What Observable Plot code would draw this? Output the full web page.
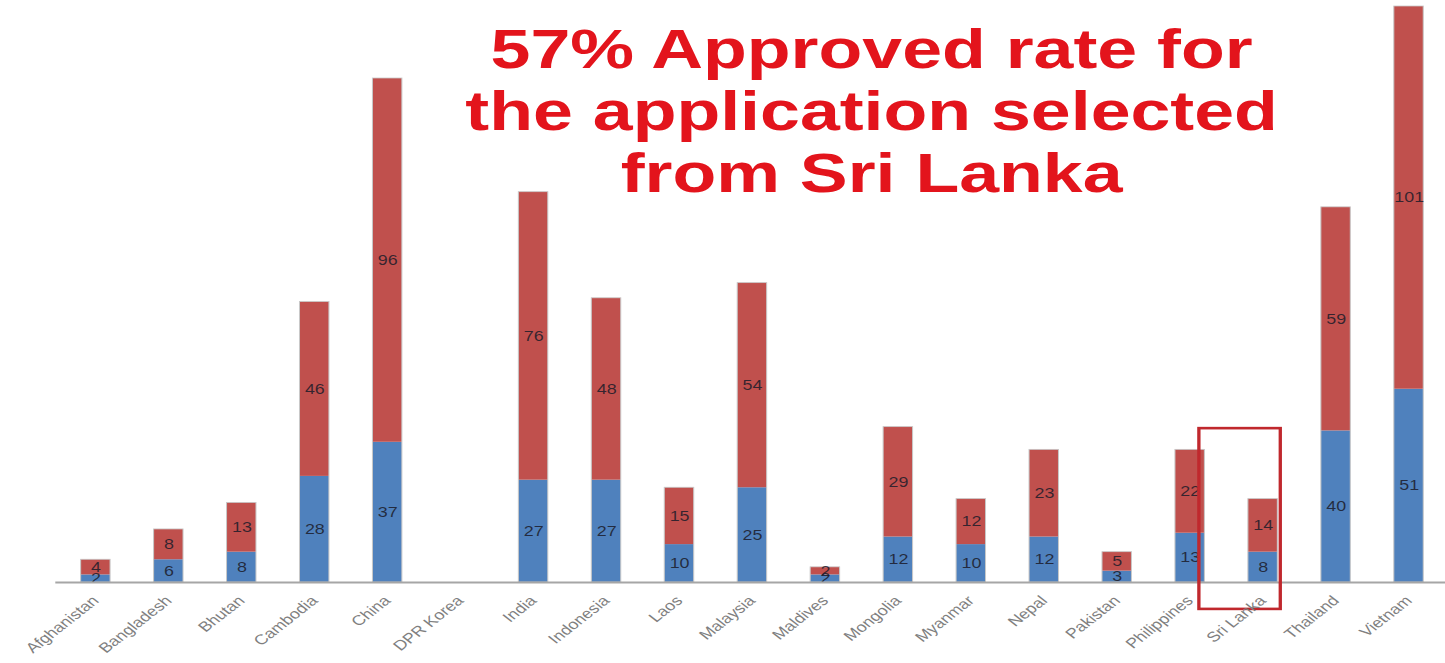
<!DOCTYPE html>
<html>
<head>
<meta charset="utf-8">
<script src="https://cdn.jsdelivr.net/npm/d3@7"></script>
<script src="https://cdn.jsdelivr.net/npm/@observablehq/plot@0.6"></script>
<style>
  html, body { margin: 0; padding: 0; background: #fff; overflow: hidden; }
  #wrap { position: relative; width: 1129px; height: 663px; transform: scale(1.2799, 1); transform-origin: 0 0; }
  #title { position: absolute; left: 181px; top: 17.6px; width: 1000px; text-align: center;
           font-family: "Liberation Sans", Arial, sans-serif; font-weight: bold; font-size: 56px;
           line-height: 62px; color: #e3141c; pointer-events: none; }
</style>
</head>
<body>
<div id="wrap">
  <div id="chart"></div>
  <div id="title">57% Approved rate for<br>the application selected<br>from Sri Lanka</div>
</div>
<script>
const countries = ["Afghanistan","Bangladesh","Bhutan","Cambodia","China","DPR Korea","India","Indonesia","Laos","Malaysia","Maldives","Mongolia","Myanmar","Nepal","Pakistan","Philippines","Sri Lanka","Thailand","Vietnam"];
const approved = [2,6,8,28,37,0,27,27,10,25,2,12,10,12,3,13,8,40,51];
const selected = [4,8,13,46,96,0,76,48,15,54,2,29,12,23,5,22,14,59,101];
const seriesNames = ["Approved","Selected"];
const highlight = [{country: "Sri Lanka", low: -7.1, high: 40.6}];

const table = countries.flatMap((c, i) => [
  {country: c, series: seriesNames[0], value: approved[i]},
  {country: c, series: seriesNames[1], value: selected[i]}
]);
const totals = countries.map((c, i) => ({country: c, total: approved[i] + selected[i]}));

const chart = Plot.plot({
  width: 1129,
  height: 663,
  marginTop: 6,
  marginBottom: 81,
  marginLeft: 43.2,
  marginRight: 0,
  x: {domain: countries, range: [43.2, 1132.6], paddingInner: 0.59, paddingOuter: 0.295, axis: null},
  y: {domain: [0, 152], axis: null},
  color: {domain: seriesNames, range: ["#4f81bd", "#c0504d"]},
  style: {fontFamily: "'Liberation Sans', Arial, sans-serif", background: "transparent"},
  marks: [
    Plot.barY(table, {x: "country", y: "value", fill: "series"}),
    Plot.barY(totals.filter(d => d.total > 0), {x: "country", y: "total", fill: "none", stroke: "#c8c8c8", strokeWidth: 0.8}),
    Plot.text(table.filter(d => d.value > 0), Plot.stackY({x: "country", y: "value", z: "series", text: d => String(d.value), fill: "#1c1c2a", fontSize: 14, fillOpacity: 0.85})),
    Plot.ruleY([0], {stroke: "#a6a6a6", strokeWidth: 2}),
    Plot.barY(highlight, {x: "country", y1: "low", y2: "high", fill: "none", stroke: "#c0282d", strokeWidth: 2.6, insetLeft: -38.3, insetRight: -2.3}),
    Plot.text(countries, {x: d => d, frameAnchor: "bottom", dy: 19, dx: 3, rotate: -45, textAnchor: "end", fontSize: 14, fill: "#7f7f7f"})
  ]
});
document.getElementById("chart").appendChild(chart);
</script>
</body>
</html>
